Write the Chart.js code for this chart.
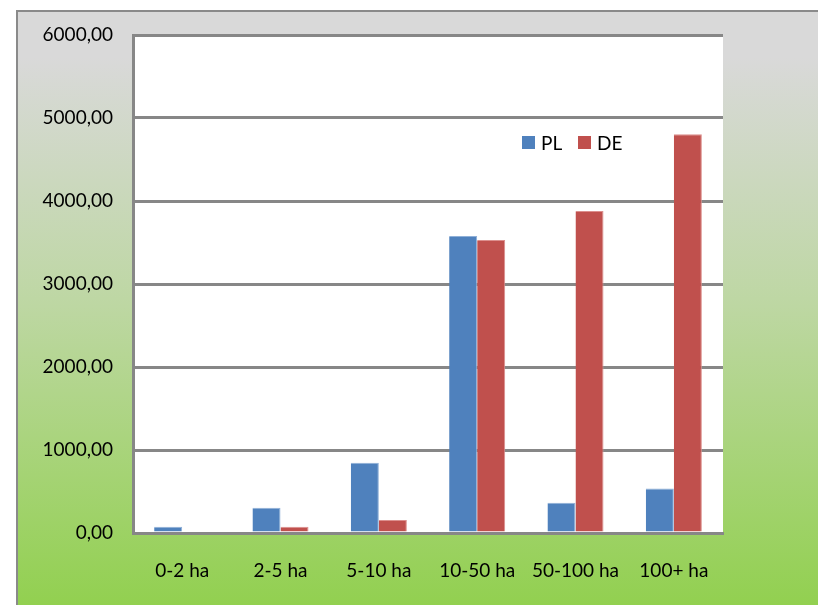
<!DOCTYPE html>
<html>
<head>
<meta charset="utf-8">
<script src="https://cdn.jsdelivr.net/npm/chart.js@4/dist/chart.umd.min.js"></script>
<style>
  html, body { margin: 0; padding: 0; background: #fff; }
  #wrap { width: 818px; height: 605px; position: relative; }
</style>
</head>
<body>
<div id="wrap"><canvas id="myChart"></canvas></div>
<script>
// farm size classes
const categories = ['0-2 ha', '2-5 ha', '5-10 ha', '10-50 ha', '50-100 ha', '100+ ha'];
const plValues = [75, 305, 845, 3578, 365, 535];
const deValues = [0, 76, 157, 3530, 3880, 4805];
const yTicks = [0, 1000, 2000, 3000, 4000, 5000, 6000];

const FONT = 'Lato, "Open Sans", sans-serif';

// outer frame with gradient + white plot area
const framePlugin = {
  id: 'frame',
  beforeDraw(chart) {
    const ctx = chart.ctx;
    const w = chart.width, h = chart.height;
    ctx.save();
    ctx.fillStyle = '#fff';
    ctx.fillRect(0, 0, w, h);
    const g = ctx.createLinearGradient(0, 10, 0, h);
    g.addColorStop(0, '#d9d9d9');
    g.addColorStop(0.08, '#d9d9d9');
    g.addColorStop(0.5, '#bdd7a2');
    g.addColorStop(1, '#92d050');
    ctx.fillStyle = g;
    ctx.fillRect(16, 10, w - 16, h - 10);
    ctx.strokeStyle = '#8a8a8a';
    ctx.lineWidth = 2;
    ctx.beginPath();
    ctx.moveTo(17, h);
    ctx.lineTo(17, 11);
    ctx.lineTo(w, 11);
    ctx.stroke();
    const a = chart.chartArea;
    ctx.fillStyle = '#fff';
    ctx.fillRect(a.left, a.top, a.right - a.left, a.bottom - a.top);
    ctx.restore();
  }
};

// legend drawn inside the plot, top right
const innerLegend = {
  id: 'innerLegend',
  afterDraw(chart) {
    const ctx = chart.ctx;
    let x = 522;
    const y = 143;
    ctx.save();
    ctx.font = '19px ' + FONT;
    ctx.textBaseline = 'middle';
    chart.data.datasets.forEach(ds => {
      ctx.fillStyle = ds.backgroundColor;
      ctx.fillRect(x, y - 7, 13, 13);
      ctx.fillStyle = '#000';
      ctx.fillText(ds.label, x + 19, y + 1);
      x += 56;
    });
    ctx.restore();
  }
};

new Chart(document.getElementById('myChart'), {
  type: 'bar',
  data: {
    labels: categories,
    datasets: [
      {
        label: 'PL',
        data: plValues,
        backgroundColor: '#4f81bd',
        borderColor: '#8fb0d8',
        borderWidth: { top: 1, left: 0, right: 1, bottom: 0 },
        categoryPercentage: 0.57,
        barPercentage: 1.0
      },
      {
        label: 'DE',
        data: deValues,
        backgroundColor: '#c0504d',
        borderColor: '#dc8f8d',
        borderWidth: { top: 1, left: 0, right: 1, bottom: 0 },
        categoryPercentage: 0.57,
        barPercentage: 1.0
      }
    ]
  },
  options: {
    responsive: true,
    maintainAspectRatio: false,
    animation: false,
    layout: { padding: { left: 0, top: 35, right: 95, bottom: 0 } },
    plugins: {
      legend: { display: false },
      tooltip: { enabled: false }
    },
    scales: {
      x: {
        grid: { display: false, drawTicks: false },
        border: { display: true, color: '#878787', width: 3 },
        ticks: { color: '#000', font: { family: FONT, size: 19 }, padding: 26, maxRotation: 0 },
        afterFit(scale) { scale.height = 72; }
      },
      y: {
        min: 0,
        max: 6000,
        afterBuildTicks(scale) { scale.ticks = yTicks.map(v => ({ value: v })); },
        grid: { color: '#878787', lineWidth: 3, drawTicks: false },
        border: { display: true, color: '#878787', width: 3 },
        ticks: {
          color: '#000',
          font: { family: FONT, size: 19 },
          padding: 20,
          callback: v => v.toFixed(2).replace('.', ',')
        },
        afterFit(scale) { scale.width = 133; }
      }
    }
  },
  plugins: [framePlugin, innerLegend]
});
</script>
</body>
</html>
